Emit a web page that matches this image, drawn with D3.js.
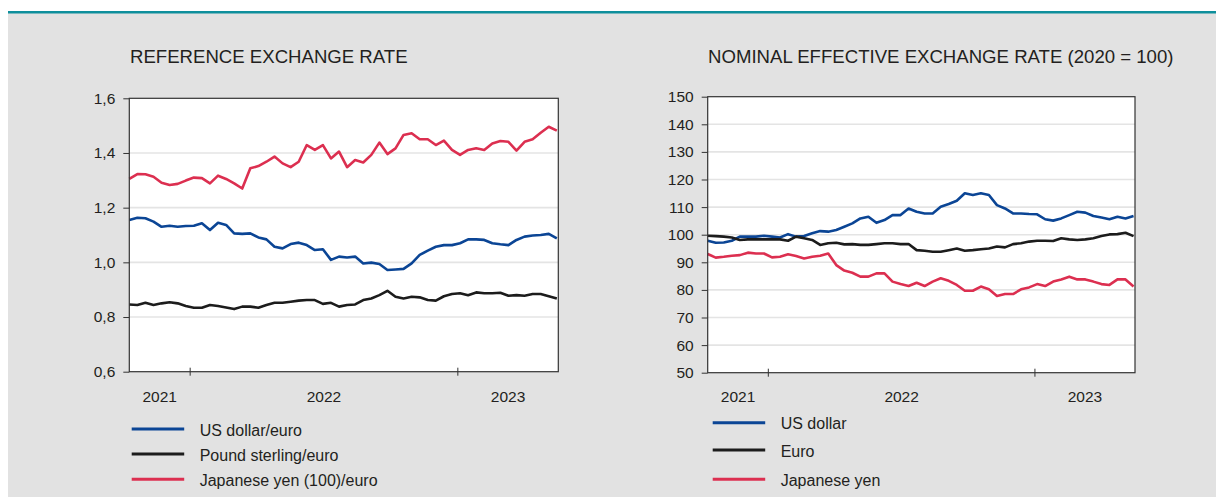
<!DOCTYPE html>
<html>
<head>
<meta charset="utf-8">
<script src="https://cdn.jsdelivr.net/npm/d3@7"></script>
<style>
  body { margin: 0; background: #fff; }
  svg text { font-family: "Liberation Sans", Arial, sans-serif; fill: #231f20; }
</style>
</head>
<body>
<script>
// sampling: one reading every 11 days starting 10 Oct 2021
var startDate = new Date(Date.UTC(2021, 9, 10)),
    endDate = new Date(Date.UTC(2023, 4, 18)),
    stepDays = 11;

// reference exchange rate
var usdEur = [1.155,1.163,1.161,1.149,1.130,1.134,1.130,1.133,1.134,1.143,1.118,1.145,1.137,1.106,1.104,1.106,1.091,1.084,1.057,1.051,1.067,1.072,1.063,1.045,1.048,1.009,1.021,1.018,1.021,0.996,0.999,0.994,0.972,0.974,0.976,0.996,1.027,1.043,1.057,1.063,1.063,1.070,1.084,1.084,1.082,1.070,1.066,1.063,1.082,1.094,1.098,1.100,1.104,1.088];
var gbpEur = [0.846,0.844,0.852,0.844,0.850,0.854,0.850,0.840,0.834,0.834,0.844,0.840,0.835,0.829,0.838,0.838,0.834,0.844,0.852,0.852,0.856,0.860,0.862,0.862,0.848,0.852,0.838,0.844,0.846,0.862,0.868,0.880,0.896,0.874,0.868,0.874,0.872,0.862,0.860,0.876,0.884,0.887,0.880,0.890,0.887,0.887,0.889,0.878,0.880,0.878,0.884,0.884,0.876,0.868];
var jpyEur = [1.305,1.323,1.322,1.313,1.291,1.283,1.287,1.299,1.310,1.308,1.289,1.317,1.305,1.289,1.270,1.344,1.352,1.368,1.387,1.362,1.348,1.368,1.429,1.411,1.429,1.380,1.405,1.348,1.374,1.365,1.393,1.438,1.396,1.417,1.466,1.472,1.450,1.450,1.429,1.445,1.411,1.393,1.411,1.417,1.411,1.435,1.444,1.441,1.409,1.441,1.450,1.474,1.496,1.482];

// nominal effective exchange rate (2020 = 100)
var neerUsd = [97.8,97.1,97.2,97.8,99.3,99.3,99.3,99.6,99.3,99.0,100.2,99.3,99.5,100.5,101.3,101.1,101.7,102.9,104.1,105.9,106.5,104.3,105.3,107.1,107.1,109.5,108.3,107.7,107.7,110.1,111.1,112.3,115.0,114.4,115.0,114.4,110.7,109.5,107.7,107.7,107.5,107.4,105.6,105.1,105.9,107.1,108.3,108.0,106.8,106.2,105.6,106.5,105.9,106.8];
var neerEur = [99.6,99.5,99.3,99.0,98.1,98.3,98.3,98.3,98.3,98.3,97.8,99.3,98.7,98.1,96.3,96.9,97.1,96.5,96.6,96.3,96.3,96.6,96.9,96.9,96.6,96.6,94.4,94.2,93.8,93.8,94.4,95.0,94.2,94.4,94.7,95.0,95.7,95.4,96.6,96.9,97.5,97.8,97.8,97.7,98.7,98.3,98.1,98.3,98.7,99.5,100.1,100.2,100.7,99.5];
var neerJpy = [93.0,91.7,92.0,92.4,92.6,93.5,93.2,93.2,91.8,92.0,92.9,92.3,91.4,92.0,92.4,93.2,89.0,87.0,86.2,84.8,84.8,86.0,86.0,83.0,82.1,81.4,82.6,81.4,83.0,84.2,83.3,81.8,79.7,79.7,81.2,80.2,77.8,78.5,78.5,80.2,80.9,82.1,81.4,83.0,83.8,84.8,83.8,83.8,83.0,82.1,81.8,83.8,83.8,81.2];

var leftTicks = [0.6, 0.8, 1.0, 1.2, 1.4, 1.6],
    rightTicks = [50, 60, 70, 80, 90, 100, 110, 120, 130, 140, 150],
    years = [2021, 2022, 2023];

var blue = "#0b4595", black = "#1c1c1c", red = "#dc2f50";

var width = 1216, height = 497;

var svg = d3.select("body").append("svg")
    .attr("width", width)
    .attr("height", height);

svg.append("rect")
    .attr("x", 8).attr("y", 13)
    .attr("width", width - 8).attr("height", height - 13)
    .attr("fill", "#e2e2e2");

svg.append("rect")
    .attr("x", 8).attr("y", 11)
    .attr("width", width - 8).attr("height", 2.5)
    .attr("fill", "#0e8f9c");

var dates = usdEur.map(function(d, i) {
  return d3.utcDay.offset(startDate, i * stepDays);
});

var commaFormat = d3.formatLocale({decimal: ",", thousands: ".", grouping: [3], currency: ["", ""]}).format(".1f");

function panel(o) {
  var x = d3.scaleUtc().domain([startDate, endDate]).range([o.x0, o.x1]);
  var y = d3.scaleLinear().domain(o.domain).range([o.y1, o.y0]);
  var g = svg.append("g");

  g.append("text")
    .attr("x", o.titleX).attr("y", 63)
    .style("font-size", "18.6px")
    .text(o.title);

  g.append("rect")
    .attr("x", o.x0).attr("y", o.y0)
    .attr("width", o.x1 - o.x0).attr("height", o.y1 - o.y0)
    .attr("fill", "#fff");

  // grid
  g.selectAll(".grid")
    .data(o.ticks.slice(1, -1))
    .enter().append("line")
    .attr("x1", o.x0).attr("x2", o.x1)
    .attr("y1", function(d) { return y(d); })
    .attr("y2", function(d) { return y(d); })
    .attr("stroke", "#e4e4e4")
    .attr("stroke-width", 1.6);

  // y axis
  var yAxis = d3.axisLeft(y).tickValues(o.ticks).tickSize(6).tickPadding(8).tickFormat(o.fmt);
  var ya = g.append("g").attr("transform", "translate(" + o.x0 + ",0)").call(yAxis);
  ya.select(".domain").remove();
  ya.selectAll("line").attr("stroke", "#333");
  ya.selectAll("text").style("font-size", "15.5px").attr("fill", "#231f20");

  // series (drawn in drawOrder, legend keeps series order)
  var line = d3.line()
    .x(function(d, i) { return x(dates[i]); })
    .y(function(d) { return y(d); });

  o.drawOrder.forEach(function(k) {
    var s = o.series[k];
    g.append("path")
      .datum(s.values)
      .attr("fill", "none")
      .attr("stroke", s.color)
      .attr("stroke-width", 2.6)
      .attr("stroke-linejoin", "round")
      .attr("d", line);
  });

  // frame
  g.append("rect")
    .attr("x", o.x0).attr("y", o.y0)
    .attr("width", o.x1 - o.x0).attr("height", o.y1 - o.y0)
    .attr("fill", "none")
    .attr("stroke", "#333")
    .attr("stroke-width", 1.2);

  // year ticks and labels
  var bounds = [new Date(Date.UTC(2022, 0, 1)), new Date(Date.UTC(2023, 0, 1))];
  g.selectAll(".ytick")
    .data(bounds)
    .enter().append("line")
    .attr("x1", function(d) { return x(d); })
    .attr("x2", function(d) { return x(d); })
    .attr("y1", o.y1 - 4).attr("y2", o.y1 + 4)
    .attr("stroke", "#333");

  g.selectAll(".year")
    .data(years)
    .enter().append("text")
    .attr("x", function(d) {
      var a = Math.max(+startDate, Date.UTC(d, 0, 1)),
          b = Math.min(+endDate, Date.UTC(d + 1, 0, 1));
      return (x(new Date(a)) + x(new Date(b))) / 2;
    })
    .attr("y", 402)
    .attr("text-anchor", "middle")
    .style("font-size", "15.5px")
    .text(function(d) { return d; });

  // legend
  var leg = g.selectAll(".leg")
    .data(o.series)
    .enter().append("g")
    .attr("transform", function(d, i) { return "translate(0," + o.legendY[i] + ")"; });
  leg.append("line")
    .attr("x1", o.legX).attr("x2", o.legX + 52.5)
    .attr("stroke", function(d) { return d.color; })
    .attr("stroke-width", 3);
  leg.append("text")
    .attr("x", o.legX + 68)
    .attr("y", 6.5)
    .style("font-size", "16px")
    .text(function(d) { return d.name; });
}

panel({
  title: "REFERENCE EXCHANGE RATE", titleX: 130,
  x0: 129.3, x1: 558.3, y0: 98.3, y1: 371.7,
  domain: [0.6, 1.6], ticks: leftTicks, fmt: commaFormat,
  legX: 131.7, legendY: [429, 454, 479.3],
  series: [
    {name: "US dollar/euro", color: blue, values: usdEur},
    {name: "Pound sterling/euro", color: black, values: gbpEur},
    {name: "Japanese yen (100)/euro", color: red, values: jpyEur}
  ],
  drawOrder: [0, 2, 1]
});

panel({
  title: "NOMINAL EFFECTIVE EXCHANGE RATE (2020 = 100)", titleX: 708,
  x0: 707.7, x1: 1135, y0: 96.7, y1: 372.7,
  domain: [50, 150], ticks: rightTicks, fmt: d3.format("d"),
  legX: 712.7, legendY: [422.7, 450, 479.3],
  series: [
    {name: "US dollar", color: blue, values: neerUsd},
    {name: "Euro", color: black, values: neerEur},
    {name: "Japanese yen", color: red, values: neerJpy}
  ],
  drawOrder: [0, 2, 1]
});
</script>
</body>
</html>
